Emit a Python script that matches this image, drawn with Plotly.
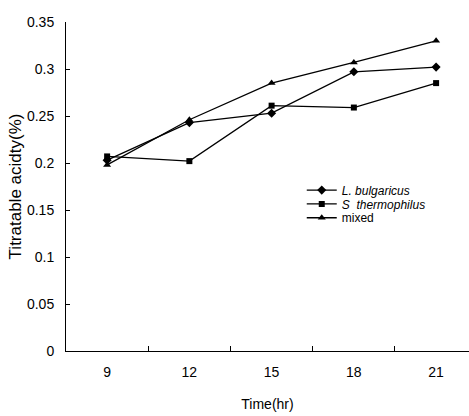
import plotly.graph_objects as go

times = ["9", "12", "15", "18", "21"]
l_bulgaricus = [0.203, 0.243, 0.253, 0.297, 0.302]
s_thermophilus = [0.207, 0.202, 0.261, 0.259, 0.285]
mixed = [0.198, 0.246, 0.285, 0.307, 0.330]
y_ticks = [0, 0.05, 0.1, 0.15, 0.2, 0.25, 0.3, 0.35]
y_ticktext = ["0", "0.05", "0.1", "0.15", "0.2", "0.25", "0.3", "0.35"]

FONT = "Liberation Sans, Arial, sans-serif"

fig = go.Figure()
series = [
    ("<i>L. bulgaricus</i>", l_bulgaricus, "diamond", 7, "legend", 0.489),
    ("<i>S  thermophilus</i>", s_thermophilus, "square", 6, "legend2", 0.447),
    ("mixed", mixed, "triangle-up", 7, "legend3", 0.405),
]
legends = {}
for name, vals, sym, sz, lg, ly in series:
    fig.add_trace(go.Scatter(
        x=times, y=vals, name=name, mode="lines+markers",
        line=dict(color="black", width=1.3),
        marker=dict(symbol=sym, size=sz, color="black"),
        legend=lg,
    ))
    legends[lg] = dict(x=0.585, y=ly, xanchor="left", yanchor="middle",
                       bgcolor="rgba(0,0,0,0)", font=dict(size=12),
                       itemwidth=30, borderwidth=0)

fig.update_layout(
    width=469, height=416,
    margin=dict(l=66, r=0, t=22, b=65),
    paper_bgcolor="white", plot_bgcolor="white",
    font=dict(family=FONT, size=14, color="black"),
    showlegend=True,
    xaxis=dict(
        type="category", range=[-0.5, 4.4],
        showline=True, linecolor="black", linewidth=1,
        ticks="inside", tickson="boundaries", ticklen=5, tickcolor="black",
        showgrid=False, zeroline=False,
        ticklabelstandoff=8,
        title=dict(text="Time(hr)", standoff=20, font=dict(size=14)),
        tickfont=dict(size=14),
    ),
    yaxis=dict(
        range=[0, 0.35], tickvals=y_ticks, ticktext=y_ticktext,
        showline=True, linecolor="black", linewidth=1,
        ticks="inside", ticklen=4, tickcolor="black",
        showgrid=False, zeroline=False,
        ticklabelstandoff=8,
        title=dict(text="Titratable acidty(%)", standoff=1, font=dict(size=17)),
        tickfont=dict(size=14),
    ),
    **legends,
)

fig.write_html("out.html")
